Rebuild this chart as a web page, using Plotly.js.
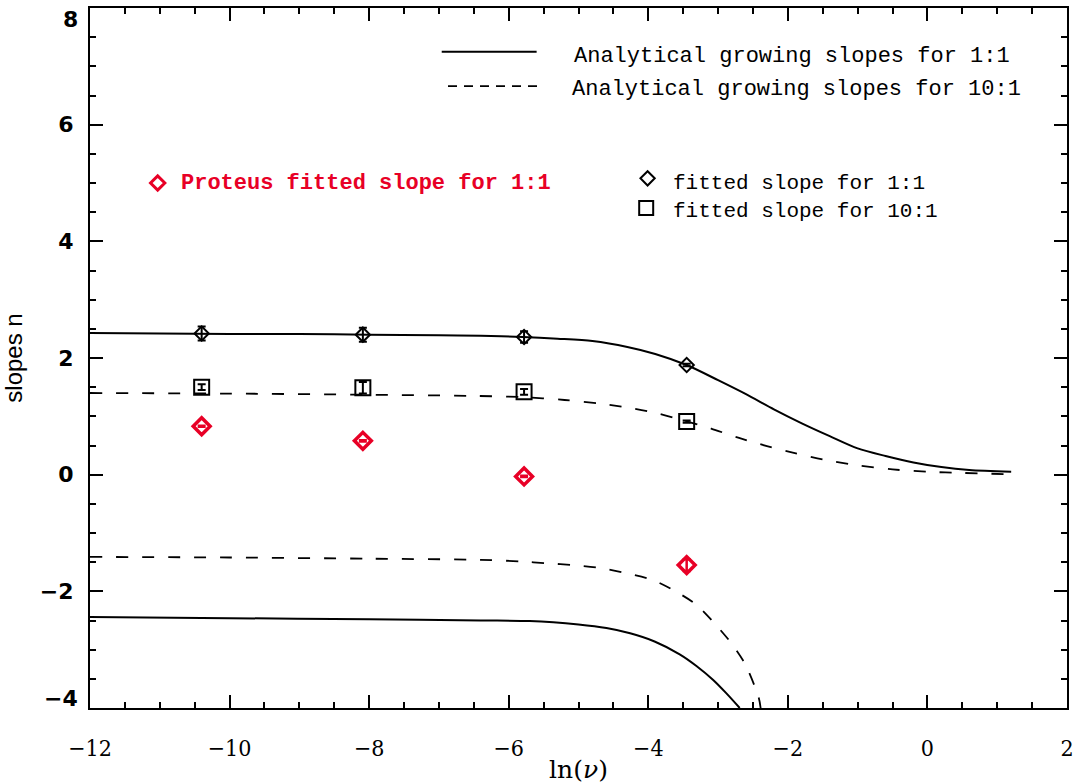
<!DOCTYPE html>
<html>
<head>
<meta charset="utf-8">
<script src="https://cdn.plot.ly/plotly-3.0.1.min.js"></script>
<style>html,body{margin:0;padding:0;background:#fff;}#chart{width:1085px;height:784px;}</style>
</head>
<body>
<div id="chart"></div>
<script>
// ---- data ----
const lnNu = [-10.40, -8.09, -5.78, -3.45];

const fitted11 = [2.42, 2.40, 2.36, 1.88];
const fitted11Err = [0.12, 0.12, 0.10, 0.02];

const fitted101 = [1.50, 1.49, 1.42, 0.91];
const fitted101Err = [0.05, 0.10, 0.05, 0.02];

const proteus11 = [0.83, 0.58, -0.03, -1.55];
const proteus11Err = [0.01, 0.01, 0.01, 0.10];

const growPos11X = [-12, -11, -10, -9, -8, -7, -6.4, -5.8, -5.3, -4.8, -4.3, -3.9, -3.45, -3.0, -2.6, -2.2, -1.8, -1.4, -1.0, -0.6, -0.2, 0.2, 0.6, 1.2];
const growPos11Y = [2.43, 2.42, 2.41, 2.41, 2.40, 2.39, 2.38, 2.36, 2.33, 2.29, 2.19, 2.07, 1.88, 1.62, 1.38, 1.12, 0.88, 0.66, 0.45, 0.32, 0.21, 0.13, 0.08, 0.05];

const growPos101X = [-12, -10, -8, -6.5, -5.8, -5.2, -4.7, -4.3, -3.9, -3.5, -3.1, -2.7, -2.3, -1.9, -1.5, -1.0, -0.5, 0.0, 0.5, 1.1];
const growPos101Y = [1.40, 1.39, 1.37, 1.35, 1.33, 1.28, 1.22, 1.15, 1.06, 0.93, 0.79, 0.63, 0.49, 0.37, 0.26, 0.16, 0.09, 0.05, 0.03, 0.01];

const growNeg11X = [-12, -10, -8, -6.4, -5.7, -5.0, -4.6, -4.26, -3.91, -3.55, -3.31, -3.07, -2.88, -2.69];
const growNeg11Y = [-2.44, -2.46, -2.48, -2.50, -2.51, -2.57, -2.63, -2.72, -2.86, -3.08, -3.28, -3.52, -3.75, -4.0];

const growNeg101X = [-12, -10, -8, -6.4, -5.8, -5.46, -5.07, -4.69, -4.31, -3.95, -3.64, -3.31, -3.05, -2.81, -2.62, -2.42, -2.39];
const growNeg101Y = [-1.41, -1.42, -1.44, -1.46, -1.49, -1.52, -1.55, -1.60, -1.69, -1.80, -1.98, -2.23, -2.55, -2.89, -3.23, -3.81, -4.0];

const yTickVals = [-4, -2, 0, 2, 4, 6, 8];
const yTickText = ['', '\u22122', '0', '2', '4', '6', ''];

const legendLabels = [
  'Analytical growing slopes for 1:1',
  'Analytical growing slopes for 10:1',
  'Proteus fitted slope for 1:1',
  'fitted slope for 1:1',
  'fitted slope for 10:1'
];

const RED = 'rgb(232,0,38)';
const BLK = '#000';
const textFont = 'Liberation Mono, Courier New, monospace';
const yTickFont = {family: 'DejaVu Sans, sans-serif', size: 22, color: BLK, weight: 'bold'};

const curve = (x, y, dash, w) => ({x: x, y: y, mode: 'lines', hoverinfo: 'skip',
  line: {color: BLK, width: w, dash: dash, shape: 'spline', smoothing: 0.8}});

const traces = [
  curve(growPos11X, growPos11Y, 'solid', 2),
  curve(growNeg11X, growNeg11Y, 'solid', 2),
  curve(growPos101X, growPos101Y, '12px,14px', 1.8),
  curve(growNeg101X, growNeg101Y, '12px,14px', 1.8),
  {x: lnNu, y: fitted11, mode: 'markers',
   marker: {symbol: 'diamond-open', size: 11, color: BLK, line: {width: 2, color: BLK}},
   error_y: {type: 'data', array: fitted11Err, visible: true, color: BLK, thickness: 2, width: 4}},
  {x: lnNu, y: fitted101, mode: 'markers',
   marker: {symbol: 'square-open', size: 15, color: BLK, line: {width: 2, color: BLK}},
   error_y: {type: 'data', array: fitted101Err, visible: true, color: BLK, thickness: 2, width: 4}},
  {x: lnNu, y: proteus11, mode: 'markers',
   marker: {symbol: 'diamond-open', size: 13, color: RED, line: {width: 3.5, color: RED}},
   error_y: {type: 'data', array: proteus11Err, visible: true, color: RED, thickness: 2.5, width: 4}},
  // legend symbols
  {x: [-11.03], y: [5.0], mode: 'markers', marker: {symbol: 'diamond-open', size: 11, color: RED, line: {width: 3, color: RED}}, hoverinfo: 'skip'},
  {x: [-4.01], y: [5.08], mode: 'markers', marker: {symbol: 'diamond-open', size: 11, color: BLK, line: {width: 2, color: BLK}}, hoverinfo: 'skip'},
  {x: [-4.03], y: [4.57], mode: 'markers', marker: {symbol: 'square-open', size: 14, color: BLK, line: {width: 2, color: BLK}}, hoverinfo: 'skip'}
];

const ann = (x, y, text, color, size, bold) => ({
  x: x, y: y, xref: 'x', yref: 'y', xanchor: 'left', yanchor: 'middle', showarrow: false,
  text: bold ? '<b>' + text + '</b>' : text,
  font: {family: textFont, size: size, color: color}
});

const layout = {
  width: 1085, height: 784,
  margin: {l: 90, r: 18, t: 8, b: 76},
  paper_bgcolor: '#fff', plot_bgcolor: '#fff',
  showlegend: false,
  xaxis: {
    range: [-12, 2], dtick: 2, tick0: -12,
    ticks: 'inside', ticklen: 13, tickwidth: 2, tickcolor: BLK,
    minor: {dtick: 0.5, ticks: 'inside', ticklen: 6, tickwidth: 2, tickcolor: BLK},
    showline: true, linewidth: 2, linecolor: BLK, mirror: 'ticks',
    showgrid: false, zeroline: false,
    ticklabelstandoff: 18, ticklabeloverflow: 'allow',
    tickfont: {family: 'DejaVu Serif Condensed, DejaVu Serif, serif', size: 23, color: BLK},
    title: {text: 'ln(<i>ν</i>)', font: {family: 'DejaVu Serif, serif', size: 25, color: BLK}, standoff: 2}
  },
  yaxis: {
    range: [-4, 8], tickmode: 'array', tickvals: yTickVals, ticktext: yTickText,
    ticks: 'inside', ticklen: 13, tickwidth: 2, tickcolor: BLK,
    minor: {dtick: 0.5, tick0: 0, ticks: 'inside', ticklen: 6, tickwidth: 2, tickcolor: BLK},
    showline: true, linewidth: 2, linecolor: BLK, mirror: 'ticks',
    showgrid: false, zeroline: false,
    ticklabelstandoff: 10,
    tickfont: yTickFont,
    title: {text: 'slopes n', font: {family: 'Liberation Sans, Arial, sans-serif', size: 24, color: BLK}, standoff: 12}
  },
  shapes: [
    {type: 'line', xref: 'x', yref: 'y', x0: -6.96, x1: -5.60, y0: 7.25, y1: 7.25, line: {color: BLK, width: 2}},
    {type: 'line', xref: 'x', yref: 'y', x0: -6.87, x1: -5.55, y0: 6.66, y1: 6.66, line: {color: BLK, width: 1.8, dash: '9px,7px'}}
  ],
  annotations: [
    ann(-5.10, 7.17, legendLabels[0], BLK, 22, false),
    ann(-5.12, 6.61, legendLabels[1], BLK, 22, false),
    ann(-10.72, 5.0, legendLabels[2], RED, 22, true),
    ann(-3.68, 5.0, legendLabels[3], BLK, 21, false),
    ann(-3.68, 4.52, legendLabels[4], BLK, 21, false),
    // edge tick labels of the y axis, kept inside the plot's vertical span as in the reference
    {x: 0, xref: 'paper', xanchor: 'right', xshift: -10, y: 8, yref: 'y', yanchor: 'top', yshift: 3, showarrow: false,
     text: '8', font: yTickFont},
    {x: 0, xref: 'paper', xanchor: 'right', xshift: -10, y: -4, yref: 'y', yanchor: 'bottom', yshift: -5, showarrow: false,
     text: '\u22124', font: yTickFont}
  ]
};

Plotly.newPlot('chart', traces, layout, {displayModeBar: false, staticPlot: true});
</script>
</body>
</html>
